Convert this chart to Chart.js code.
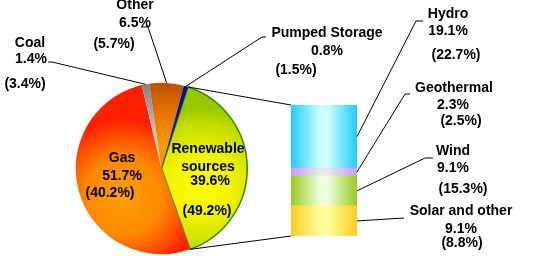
<!DOCTYPE html>
<html>
<head>
<meta charset="utf-8">
<script src="https://cdn.jsdelivr.net/npm/chart.js@4"></script>
<style>
  body { margin:0; background:#fff; }
  .wrap { position:relative; width:533px; height:256px; }
  .wrap canvas { position:absolute; left:0; top:0; }
</style>
</head>
<body>
<div class="wrap">
  <canvas id="pieChart" width="533" height="256"></canvas>
  <canvas id="barChart" width="533" height="256"></canvas>
</div>
<script>
/* DATA */
const pieLabels = ["Renewable sources", "Gas", "Coal", "Other", "Pumped Storage"];
const pieShares = [39.6, 51.7, 1.4, 6.5, 0.8];
const pieSharesPrev = [49.2, 40.2, 3.4, 5.7, 1.5];

const barLabels = ["Solar and other", "Wind", "Geothermal", "Hydro"];
const barShares = [9.1, 9.1, 2.3, 19.1];
const barSharesPrev = [8.8, 15.3, 2.5, 22.7];

/* STYLE */
const FONT = "bold 14px 'Liberation Sans', Arial, sans-serif";
const ROTATION = 18;
const pieStops = [
  [[0, "#ffff00"], [0.4, "#f2f400"], [0.8, "#c4dc00"], [1, "#98c800"]],
  [[0, "#ffa000"], [0.5, "#ff8800"], [1, "#ff2000"]],
  [[0, "#d8d8d8"], [1, "#6e6e6e"]],
  [[0, "#ff9a00"], [0.5, "#e07000"], [1, "#a84000"]],
  [[0, "#2020c0"], [1, "#000090"]]
];
const barEdge = ["#ffcc22", "#99cc22", "#cc99ff", "#22ccff"];
const barMid  = ["#ffff99", "#eeffdd", "#e8e8e8", "#ccffff"];

/* label layout: [name lines], value, prev  (x center, baseline) */
const pieText = [
  { name:[["Renewable",208,153],["sources",208,171]], val:[210,185], prev:[207,215] },
  { name:[["Gas",122,162]], val:[122,180], prev:[110,197] },
  { name:[["Coal",30,47]], val:[31,63], prev:[25,87.5] },
  { name:[["Other",135,9]], val:[135,27], prev:[114,47.5] },
  { name:[["Pumped Storage",327,36.5]], val:[327,55], prev:[296,74] }
];
const pieElbow = [null, null, [[48,62],[52,62]], [[141,27],[148,27]], [[266,37],[262,37]]];

const barText = [
  { name:[["Solar and other",461,215]], val:[461,233], prev:[462,247] },
  { name:[["Wind",453,155]], val:[453,172], prev:[463,193] },
  { name:[["Geothermal",454,92]], val:[453,109], prev:[461,125] },
  { name:[["Hydro",448,17.5]], val:[448,35], prev:[456,59] }
];
const barElbow = [[[404,218]], [[433,158],[425,158]], [[410,94],[405,94]], [[423,21],[416,21]]];

/* PIE GRADIENTS */
function sliceFill(c){
  const i = c.dataIndex;
  const a = c.chart.chartArea;
  if(!a) return pieStops[i][0][1];
  const cx = (a.left + a.right) / 2, cy = (a.top + a.bottom) / 2;
  const r = Math.min(a.right - a.left, a.bottom - a.top) / 2;
  const total = pieShares.reduce((s,v) => s + v, 0);
  const before = pieShares.slice(0, i).reduce((s,v) => s + v, 0);
  const start = (ROTATION - 90) * Math.PI / 180 + before / total * Math.PI * 2;
  const mid = start + pieShares[i] / total * Math.PI;
  // light spot sits a bit below the slice middle
  const mx = cx + 0.45 * r * Math.cos(mid), my = cy + 0.45 * r * Math.sin(mid) + 0.2 * r;
  const g = c.chart.ctx.createRadialGradient(mx, my, 0, mx, my, 0.9 * r);
  pieStops[i].forEach(s => g.addColorStop(s[0], s[1]));
  return g;
}

const pieChart = new Chart(document.getElementById("pieChart"), {
  type: "pie",
  data: {
    labels: pieLabels,
    datasets: [{
      data: pieShares,
      backgroundColor: sliceFill,
      borderColor: ["#2e9000", "#ff5000", "#808080", "#b04800", "#000090"],
      borderWidth: [1.5, 0, 0, 0, 0]
    }]
  },
  options: {
    responsive: false,
    animation: false,
    rotation: ROTATION,
    layout: { padding: { left: 75, right: 285, top: 82, bottom: 1 } },
    plugins: { legend: { display: false }, tooltip: { enabled: false } }
  }
});

/* BAR GRADIENTS */
function segFill(i){
  return function(c){
    const a = c.chart.chartArea;
    if(!a) return barEdge[i];
    const g = c.chart.ctx.createLinearGradient(a.left, 0, a.right, 0);
    g.addColorStop(0, barEdge[i]);
    g.addColorStop(0.45, barMid[i]);
    g.addColorStop(0.55, barMid[i]);
    g.addColorStop(1, barEdge[i]);
    return g;
  };
}

/* LABELS + LEADERS */
function drawBlock(ctx, block, value, prev){
  block.name.forEach(n => ctx.fillText(n[0], n[1], n[2]));
  ctx.fillText(value.toFixed(1) + "%", block.val[0], block.val[1]);
  ctx.fillText("(" + prev.toFixed(1) + "%)", block.prev[0], block.prev[1]);
}

function polyline(ctx, pts){
  ctx.beginPath();
  ctx.moveTo(pts[0][0], pts[0][1]);
  pts.slice(1).forEach(p => ctx.lineTo(p[0], p[1]));
  ctx.stroke();
}

const labelPlugin = {
  id: "labels",
  afterDraw(chart){
    const ctx = chart.ctx;
    const arcs = pieChart.getDatasetMeta(0).data;
    const segs = barLabels.map((l, i) => chart.getDatasetMeta(i).data[0]);
    const edge = (arc, ang) => [arc.x + arc.outerRadius * Math.cos(ang), arc.y + arc.outerRadius * Math.sin(ang)];

    ctx.save();
    ctx.strokeStyle = "#000";
    ctx.lineWidth = 1;

    // renewable slice -> stacked bar
    const ren = arcs[0];
    const top = segs[segs.length - 1], bottom = segs[0];
    const left = top.x - top.width / 2, right = top.x + top.width / 2;
    polyline(ctx, [edge(ren, ren.startAngle), [left, top.y]]);
    polyline(ctx, [edge(ren, ren.endAngle), [left, bottom.base]]);

    // pie leaders
    arcs.forEach((arc, i) => {
      if(!pieElbow[i]) return;
      const p = edge(arc, (arc.startAngle + arc.endAngle) / 2);
      polyline(ctx, pieElbow[i].concat([p]));
    });

    // bar leaders
    segs.forEach((s, i) => {
      polyline(ctx, barElbow[i].concat([[right, (s.y + s.base) / 2]]));
    });

    ctx.fillStyle = "#000";
    ctx.font = FONT;
    ctx.textAlign = "center";
    ctx.textBaseline = "alphabetic";
    pieText.forEach((b, i) => drawBlock(ctx, b, pieShares[i], pieSharesPrev[i]));
    barText.forEach((b, i) => drawBlock(ctx, b, barShares[i], barSharesPrev[i]));
    ctx.restore();
  }
};

new Chart(document.getElementById("barChart"), {
  type: "bar",
  data: {
    labels: ["Renewable sources"],
    datasets: barLabels.map((l, i) => ({
      label: l,
      data: [barShares[i]],
      backgroundColor: segFill(i),
      borderWidth: 0,
      barPercentage: 1,
      categoryPercentage: 1
    }))
  },
  options: {
    responsive: false,
    animation: false,
    layout: { padding: { left: 291, right: 176, top: 105, bottom: 20 } },
    scales: {
      x: { display: false, stacked: true },
      y: { display: false, stacked: true, min: 0, max: barShares.reduce((s,v) => s + v, 0) }
    },
    plugins: { legend: { display: false }, tooltip: { enabled: false } }
  },
  plugins: [labelPlugin]
});
</script>
</body>
</html>
